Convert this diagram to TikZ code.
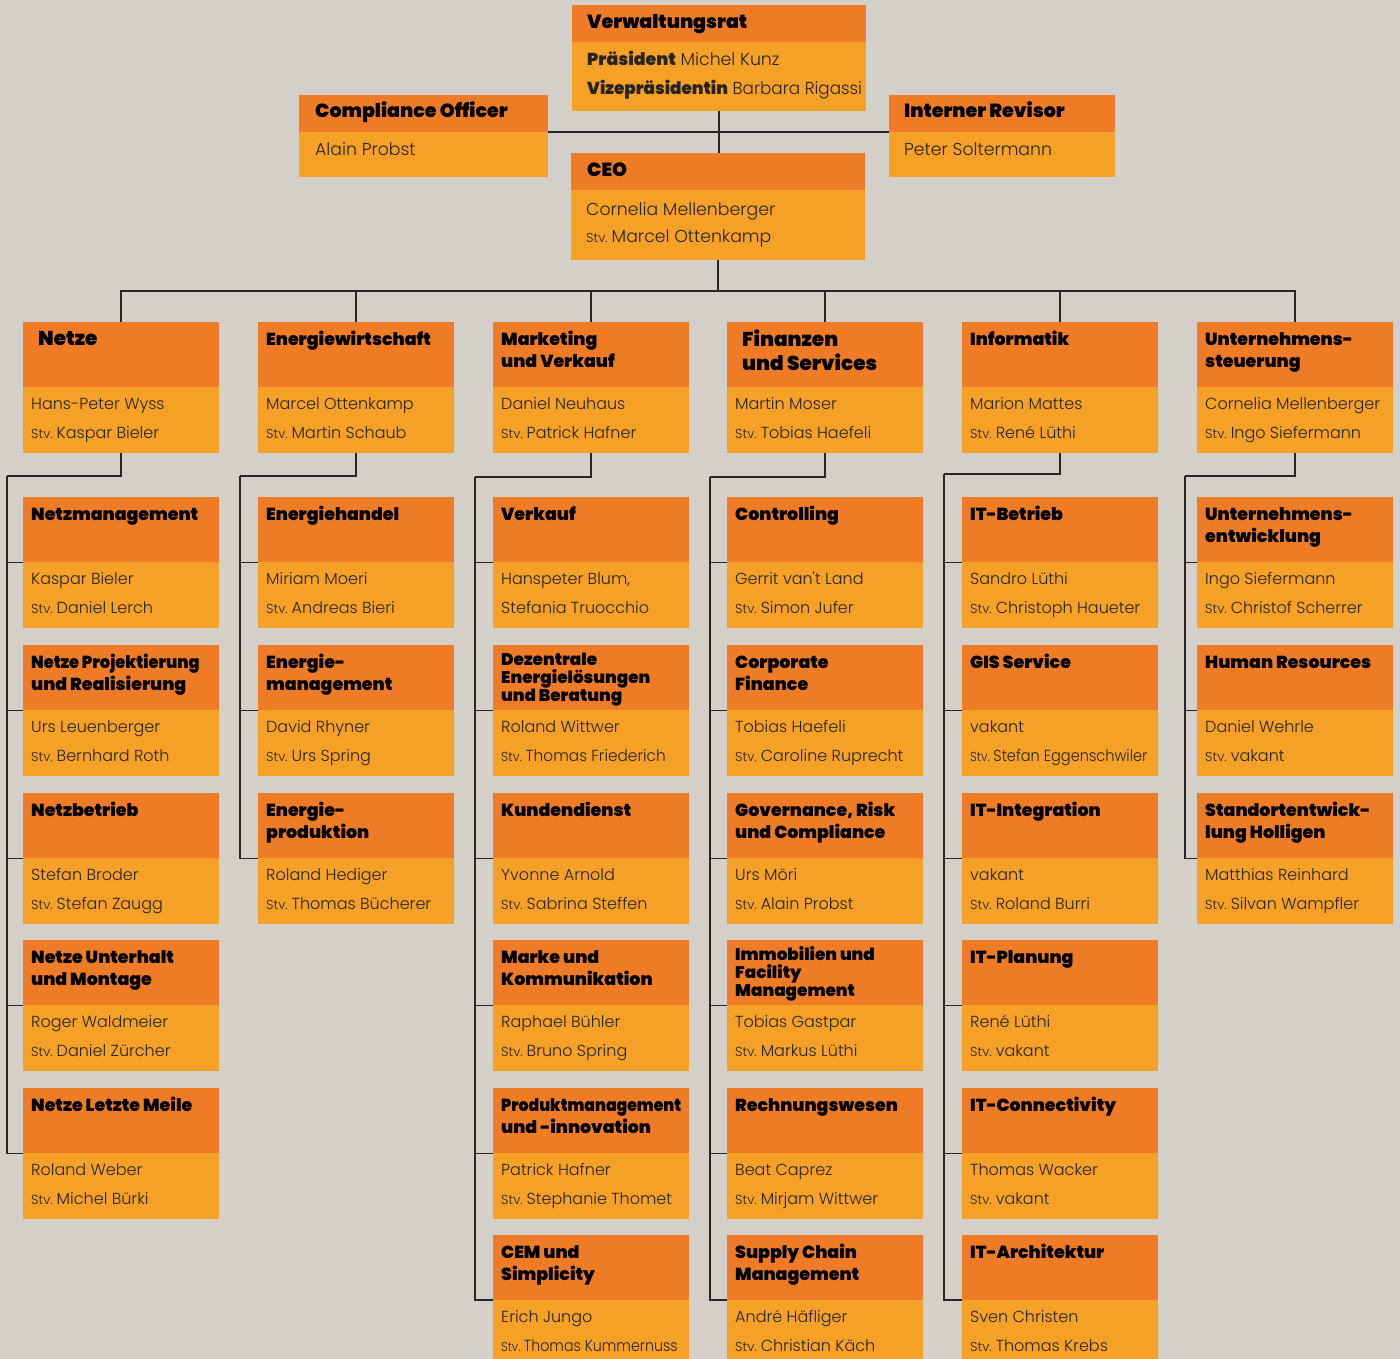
\documentclass[tikz,border=0pt]{standalone}
\usepackage{graphicx}
\usepackage{fontspec}
\newfontfamily\hfont{Poppins Black}
\newfontfamily\bfont{Poppins Light}
\definecolor{bg}{RGB}{212,208,201}
\definecolor{hdr}{RGB}{238,123,37}
\definecolor{bdy}{RGB}{245,160,38}
\definecolor{txt}{RGB}{40,36,32}
\tikzset{
  obox/.style={rectangle, fill=bdy, inner sep=0pt, outer sep=0pt, minimum width=196pt, minimum height=\curh pt},
  htxt/.style={anchor=base west, inner sep=0pt, font=\hfont\fontsize{17.4}{17.4}\selectfont, text=black},
  htxs/.style={anchor=base west, inner sep=0pt, font=\hfont\fontsize{16.8}{16.8}\selectfont, text=black},
  htop/.style={anchor=base west, inner sep=0pt, font=\hfont\fontsize{19}{19}\selectfont, text=black},
  btxt/.style={anchor=base west, inner sep=0pt, font=\bfont\fontsize{16}{16}\selectfont, text=txt},
  btop/.style={anchor=base west, inner sep=0pt, font=\bfont\fontsize{17.3}{17.3}\selectfont, text=txt},
  conn/.style={draw=black!85, line width=1.4pt}
}
\def\curh{131}
\newcommand\stv{{\fontsize{13}{13}\selectfont Stv.}\hspace{4pt}}
\newcommand\bighd{\fontsize{20}{20}\selectfont}
\newcommand\sqz[2]{\scalebox{#1}[1]{#2}}
% name, x, y, inset, h1, h2, b1, b2
\newcommand\subbox[8]{%
  \node[obox, anchor=north west] (#1) at (#2,-#3) {};
  \fill[hdr] (#1.north west) rectangle ([yshift=-65pt]#1.north east);
  \node[htxt] at (#2+#4,-#3-23) {#5};
  \node[htxt] at (#2+#4,-#3-45) {#6};
  \node[btxt] at (#2+8,-#3-87) {#7};
  \node[btxt] at (#2+8,-#3-116) {#8};
}
% three-line header: name, x, y, h1, h2, h3, b1, b2
\newcommand\subboxiii[8]{%
  \node[obox, anchor=north west] (#1) at (#2,-#3) {};
  \fill[hdr] (#1.north west) rectangle ([yshift=-65pt]#1.north east);
  \node[htxs] at (#2+8,-#3-20) {#4};
  \node[htxs] at (#2+8,-#3-38) {#5};
  \node[htxs] at (#2+8,-#3-56) {#6};
  \node[btxt] at (#2+8,-#3-87) {#7};
  \node[btxt] at (#2+8,-#3-116) {#8};
}
\begin{document}
\begin{tikzpicture}[x=1pt,y=1pt]
\fill[bg] (0,0) rectangle (1400,-1359);
\useasboundingbox (0,0) rectangle (1400,-1359);

% top boxes
\node[obox, minimum width=294pt, minimum height=106pt, anchor=north west] (vr) at (572,-5) {};
\fill[hdr] (vr.north west) rectangle ([yshift=-37pt]vr.north east);
\node[htop] at (587,-29) {Verwaltungsrat};
\node[btop] at (587,-66) {{\hfont Präsident} Michel Kunz};
\node[btop] at (587,-95) {\sqz{0.97}{{\hfont Vizepräsidentin} Barbara Rigassi}};

\node[obox, minimum width=249pt, minimum height=82pt, anchor=north west] (co) at (299,-95) {};
\fill[hdr] (co.north west) rectangle ([yshift=-37pt]co.north east);
\node[htop] at (315,-118) {Compliance Officer};
\node[btop] at (315,-156) {Alain Probst};

\node[obox, minimum width=226pt, minimum height=82pt, anchor=north west] (ir) at (889,-95) {};
\fill[hdr] (ir.north west) rectangle ([yshift=-37pt]ir.north east);
\node[htop] at (904,-118) {Interner Revisor};
\node[btop] at (904,-156) {Peter Soltermann};

\node[obox, minimum width=294pt, minimum height=107pt, anchor=north west] (ceo) at (571,-153) {};
\fill[hdr] (ceo.north west) rectangle ([yshift=-37pt]ceo.north east);
\node[htop] at (587,-177) {CEO};
\node[btop] at (586,-215) {Cornelia Mellenberger};
\node[btop] at (586,-243) {\stv Marcel Ottenkamp};

% columns
\subbox{c1}{23}{322}{15}{\bighd Netze}{}{Hans-Peter Wyss}{\stv Kaspar Bieler}
\subbox{c2}{258}{322}{8}{Energiewirtschaft}{}{Marcel Ottenkamp}{\stv Martin Schaub}
\subbox{c3}{493}{322}{8}{Marketing}{und Verkauf}{Daniel Neuhaus}{\stv Patrick Hafner}
\subbox{c4}{727}{322}{15}{}{}{Martin Moser}{\stv Tobias Haefeli}
\node[htxt, font=\hfont\bighd] at (742,-346) {Finanzen};
\node[htxt, font=\hfont\bighd] at (742,-370) {und Services};
\subbox{c5}{962}{322}{8}{Informatik}{}{Marion Mattes}{\stv René Lüthi}
\subbox{c6}{1197}{322}{8}{Unternehmens-}{steuerung}{Cornelia Mellenberger}{\stv Ingo Siefermann}

% column 1
\subbox{s11}{23}{497}{8}{Netzmanagement}{}{Kaspar Bieler}{\stv Daniel Lerch}
\subbox{s12}{23}{645}{8}{\sqz{0.93}{Netze Projektierung}}{und Realisierung}{Urs Leuenberger}{\stv Bernhard Roth}
\subbox{s13}{23}{793}{8}{Netzbetrieb}{}{Stefan Broder}{\stv Stefan Zaugg}
\subbox{s14}{23}{940}{8}{Netze Unterhalt}{und Montage}{Roger Waldmeier}{\stv Daniel Zürcher}
\subbox{s15}{23}{1088}{8}{Netze Letzte Meile}{}{Roland Weber}{\stv Michel Bürki}

% column 2
\subbox{s21}{258}{497}{8}{Energiehandel}{}{Miriam Moeri}{\stv Andreas Bieri}
\subbox{s22}{258}{645}{8}{Energie-}{management}{David Rhyner}{\stv Urs Spring}
\subbox{s23}{258}{793}{8}{Energie-}{produktion}{Roland Hediger}{\stv Thomas Bücherer}

% column 3
\subbox{s31}{493}{497}{8}{Verkauf}{}{Hanspeter Blum,}{Stefania Truocchio}
\subboxiii{s32}{493}{645}{Dezentrale}{Energielösungen}{und Beratung}{Roland Wittwer}{\sqz{0.96}{\stv Thomas Friederich}}
\subbox{s33}{493}{793}{8}{Kundendienst}{}{Yvonne Arnold}{\stv Sabrina Steffen}
\subbox{s34}{493}{940}{8}{Marke und}{Kommunikation}{Raphael Bühler}{\stv Bruno Spring}
\subbox{s35}{493}{1088}{8}{\sqz{0.9}{Produktmanagement}}{und -innovation}{Patrick Hafner}{\stv Stephanie Thomet}

% column 4
\subbox{s41}{727}{497}{8}{Controlling}{}{Gerrit van't Land}{\stv Simon Jufer}
\subbox{s42}{727}{645}{8}{Corporate}{Finance}{Tobias Haefeli}{\stv Caroline Ruprecht}
\subbox{s43}{727}{793}{8}{Governance, Risk}{und Compliance}{Urs Möri}{\stv Alain Probst}
\subboxiii{s44}{727}{940}{Immobilien und}{Facility}{Management}{Tobias Gastpar}{\stv Markus Lüthi}
\subbox{s45}{727}{1088}{8}{Rechnungswesen}{}{Beat Caprez}{\stv Mirjam Wittwer}

% column 5
\subbox{s51}{962}{497}{8}{IT-Betrieb}{}{Sandro Lüthi}{\stv Christoph Haueter}
\subbox{s52}{962}{645}{8}{GIS Service}{}{vakant}{\sqz{0.91}{\stv Stefan Eggenschwiler}}
\subbox{s53}{962}{793}{8}{IT-Integration}{}{vakant}{\stv Roland Burri}
\subbox{s54}{962}{940}{8}{IT-Planung}{}{René Lüthi}{\stv vakant}
\subbox{s55}{962}{1088}{8}{IT-Connectivity}{}{Thomas Wacker}{\stv vakant}

% column 6
\subbox{s61}{1197}{497}{8}{Unternehmens-}{entwicklung}{Ingo Siefermann}{\stv Christof Scherrer}
\subbox{s62}{1197}{645}{8}{Human Resources}{}{Daniel Wehrle}{\stv vakant}
\subbox{s63}{1197}{793}{8}{Standortentwick-}{lung Holligen}{Matthias Reinhard}{\stv Silvan Wampfler}

% last row
\def\curh{124}
\subbox{s36}{493}{1235}{8}{CEM und}{Simplicity}{Erich Jungo}{\sqz{0.89}{\stv Thomas Kummernuss}}
\subbox{s46}{727}{1235}{8}{Supply Chain}{Management}{André Häfliger}{\stv Christian Käch}
\subbox{s56}{962}{1235}{8}{IT-Architektur}{}{Sven Christen}{\stv Thomas Krebs}

% connectors top
\draw[conn] (vr.south) -- (vr.south |- ceo.north);
\draw[conn] ([yshift=-37pt]co.north east) -- ([yshift=-37pt]ir.north west);
\coordinate (bus) at ([yshift=-31pt]ceo.south);
\draw[conn] (ceo.south) -- (bus);
\foreach \c in {c1,c2,c3,c4,c5,c6} \draw[conn] (bus) -| (\c.north);

% spines
\coordinate (k1) at (7,-476);
\coordinate (k2) at (240,-476);
\coordinate (k3) at (475,-477);
\coordinate (k4) at (710,-477);
\coordinate (k5) at (944,-474);
\coordinate (k6) at (1185,-476);
\draw[conn] (c1.south) |- (k1);
\draw[conn] (c2.south) |- (k2);
\draw[conn] (c3.south) |- (k3);
\draw[conn] (c4.south) |- (k4);
\draw[conn] (c5.south) |- (k5);
\draw[conn] (c6.south) |- (k6);
\foreach \s in {s11,s12,s13,s14,s15} \draw[conn] (k1) |- (\s.west);
\foreach \s in {s21,s22,s23} \draw[conn] (k2) |- (\s.west);
\foreach \s in {s31,s32,s33,s34,s35} \draw[conn] (k3) |- (\s.west);
\draw[conn] (k3) |- ([yshift=-65pt]s36.north west);
\foreach \s in {s41,s42,s43,s44,s45} \draw[conn] (k4) |- (\s.west);
\draw[conn] (k4) |- ([yshift=-65pt]s46.north west);
\foreach \s in {s51,s52,s53,s54,s55} \draw[conn] (k5) |- (\s.west);
\draw[conn] (k5) |- ([yshift=-65pt]s56.north west);
\foreach \s in {s61,s62,s63} \draw[conn] (k6) |- (\s.west);
\end{tikzpicture}
\end{document}
